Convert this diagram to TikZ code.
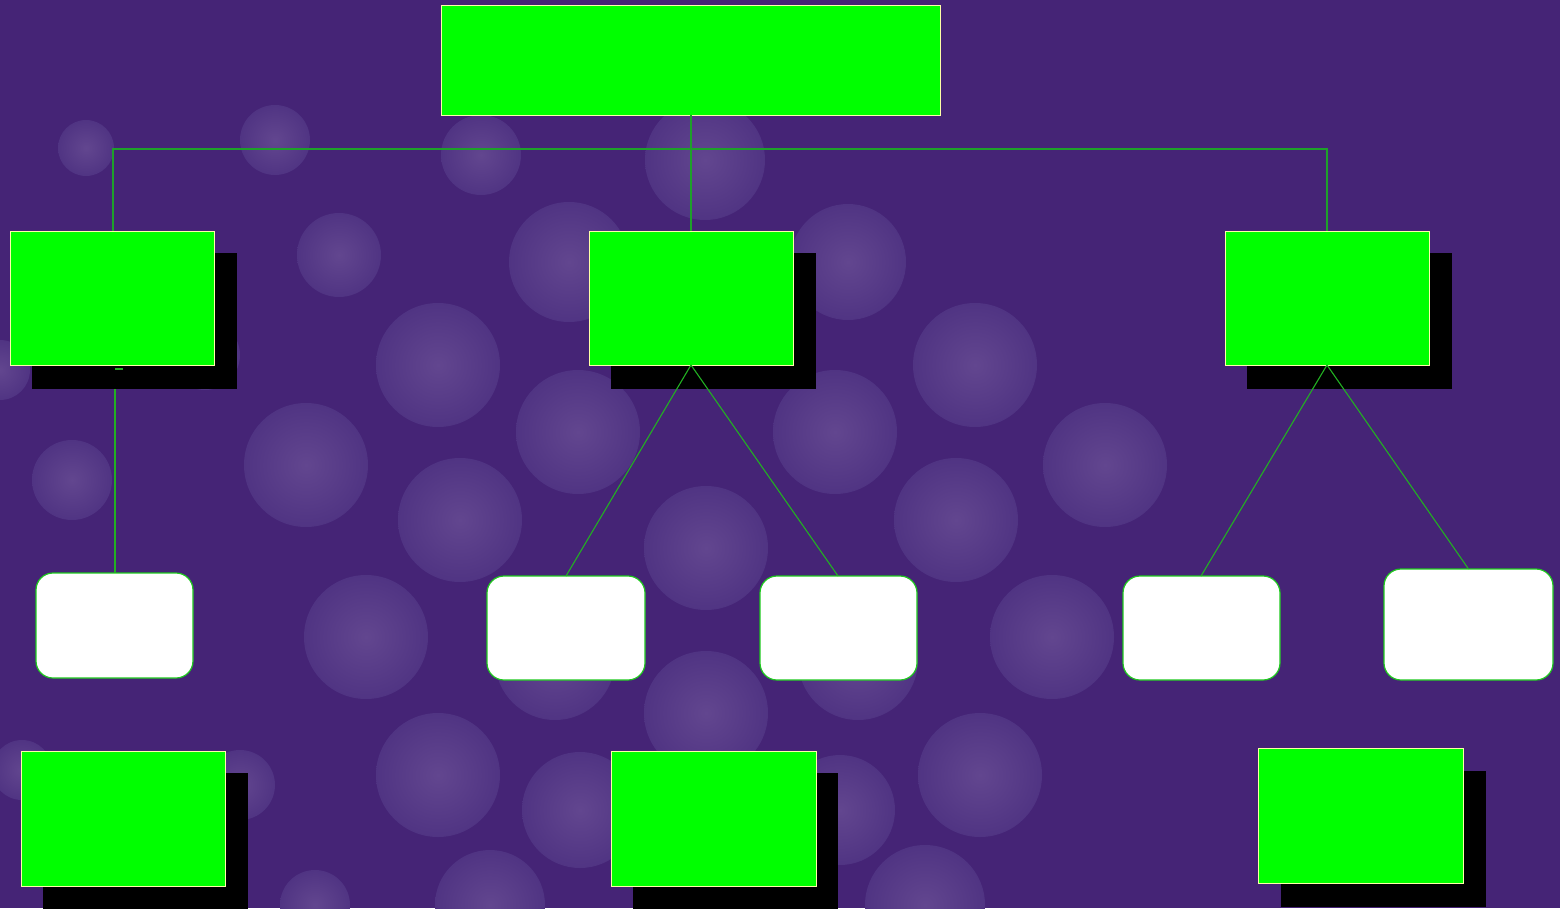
\documentclass[tikz,border=0pt]{standalone}
\definecolor{bg}{HTML}{452476}
\definecolor{bubin}{HTML}{62468F}
\definecolor{bubout}{HTML}{503483}
\definecolor{boxgreen}{HTML}{00FF00}
\definecolor{boxline}{HTML}{FFFFA8}
\definecolor{wline}{HTML}{1EC81E}
\definecolor{connline}{HTML}{1EA02A}
\definecolor{connline2}{HTML}{22B022}
\begin{document}
\begin{tikzpicture}[x=1pt,y=-1pt,
  bubble/.style={inner color=bubin, outer color=bubout, draw=none},
  gbox/.style={draw=boxline, line width=1pt, fill=boxgreen, inner sep=0pt, outer sep=0pt},
  wbox/.style={draw=wline, line width=1.2pt, fill=white, rounded corners=17pt, inner sep=0pt, outer sep=0pt},
  conn/.style={draw=connline, line width=2pt},
  conn2/.style={draw=connline2, line width=1.1pt},
  conn3/.style={draw=connline2, line width=2pt}]
\useasboundingbox (0,0) rectangle (1560,908);
\fill[bg] (0,0) rectangle (1560,908);
\begin{scope}
\clip (0,0) rectangle (1560,908);
\foreach \x/\y/\r in {86/148/28, 275/140/35, 481/155/40, 705/160/60, 339/255/42, 569/262/60, 848/262/58,
  438/365/62, 975/365/62, 578/432/62, 835/432/62, 306/465/62, 1105/465/62, 72/480/40, 460/520/62,
  706/548/62, 956/520/62, 366/637/62, 555/660/60, 858/660/60, 1052/637/62, 706/713/62, 438/775/62,
  980/775/62, 580/810/58, 840/810/55, 240/785/35, 22/770/30, 315/905/35, 490/905/55, 925/905/60,
  0/370/30, 205/355/35}
  \shade[bubble] (\x,\y) circle (\r);
\end{scope}
% nodes
\node[gbox, minimum width=499pt, minimum height=110pt, anchor=north west] (top) at (441,5) {};
\coordinate (hb) at (691,149);
\coordinate (stub) at (123,369);
\coordinate (lk) at (115,369);
\node[wbox, minimum width=157pt, minimum height=105pt, anchor=north west] (w1) at (36,573) {};
\node[wbox, minimum width=158pt, minimum height=104pt, anchor=north west] (w2) at (487,576) {};
\node[wbox, minimum width=157pt, minimum height=104pt, anchor=north west] (w3) at (760,576) {};
\node[wbox, minimum width=157pt, minimum height=104pt, anchor=north west] (w4) at (1123,576) {};
\node[wbox, minimum width=169pt, minimum height=111pt, anchor=north west] (w5) at (1384,569) {};
\draw[conn3] (w1.north -| lk) -- (lk);
% shadows
\foreach \x/\y in {32/253, 611/253, 1247/253, 43/773, 633/773, 1281/771}
  \fill[black] (\x,\y) rectangle ++(205,136);
\node[gbox, minimum width=204pt, minimum height=134pt, anchor=north west] (l) at (10,231) {};
\node[gbox, minimum width=204pt, minimum height=134pt, anchor=north west] (m) at (589,231) {};
\node[gbox, minimum width=204pt, minimum height=134pt, anchor=north west] (r) at (1225,231) {};
\node[gbox, minimum width=204pt, minimum height=135pt, anchor=north west] (b1) at (21,751) {};
\node[gbox, minimum width=205pt, minimum height=135pt, anchor=north west] (b2) at (611,751) {};
\node[gbox, minimum width=205pt, minimum height=135pt, anchor=north west] (b3) at (1258,748) {};
% top connectors
\draw[conn] (top.south -| hb) -- (hb);
\draw[conn] (hb) -| (l.north -| 113,0);
\draw[conn] (hb) -| (r.north -| 1327,0);
\draw[conn] (hb) -- (m.north -| hb);
\draw[conn3] (lk) -- (stub);
\draw[conn2] (m.south) -- (w2.north -| 566,0);
\draw[conn2] (m.south) -- (w3.north -| 838,0);
\draw[conn2] (r.south) -- (w4.north -| 1201,0);
\draw[conn2] (r.south) -- (w5.north);
\end{tikzpicture}
\end{document}
